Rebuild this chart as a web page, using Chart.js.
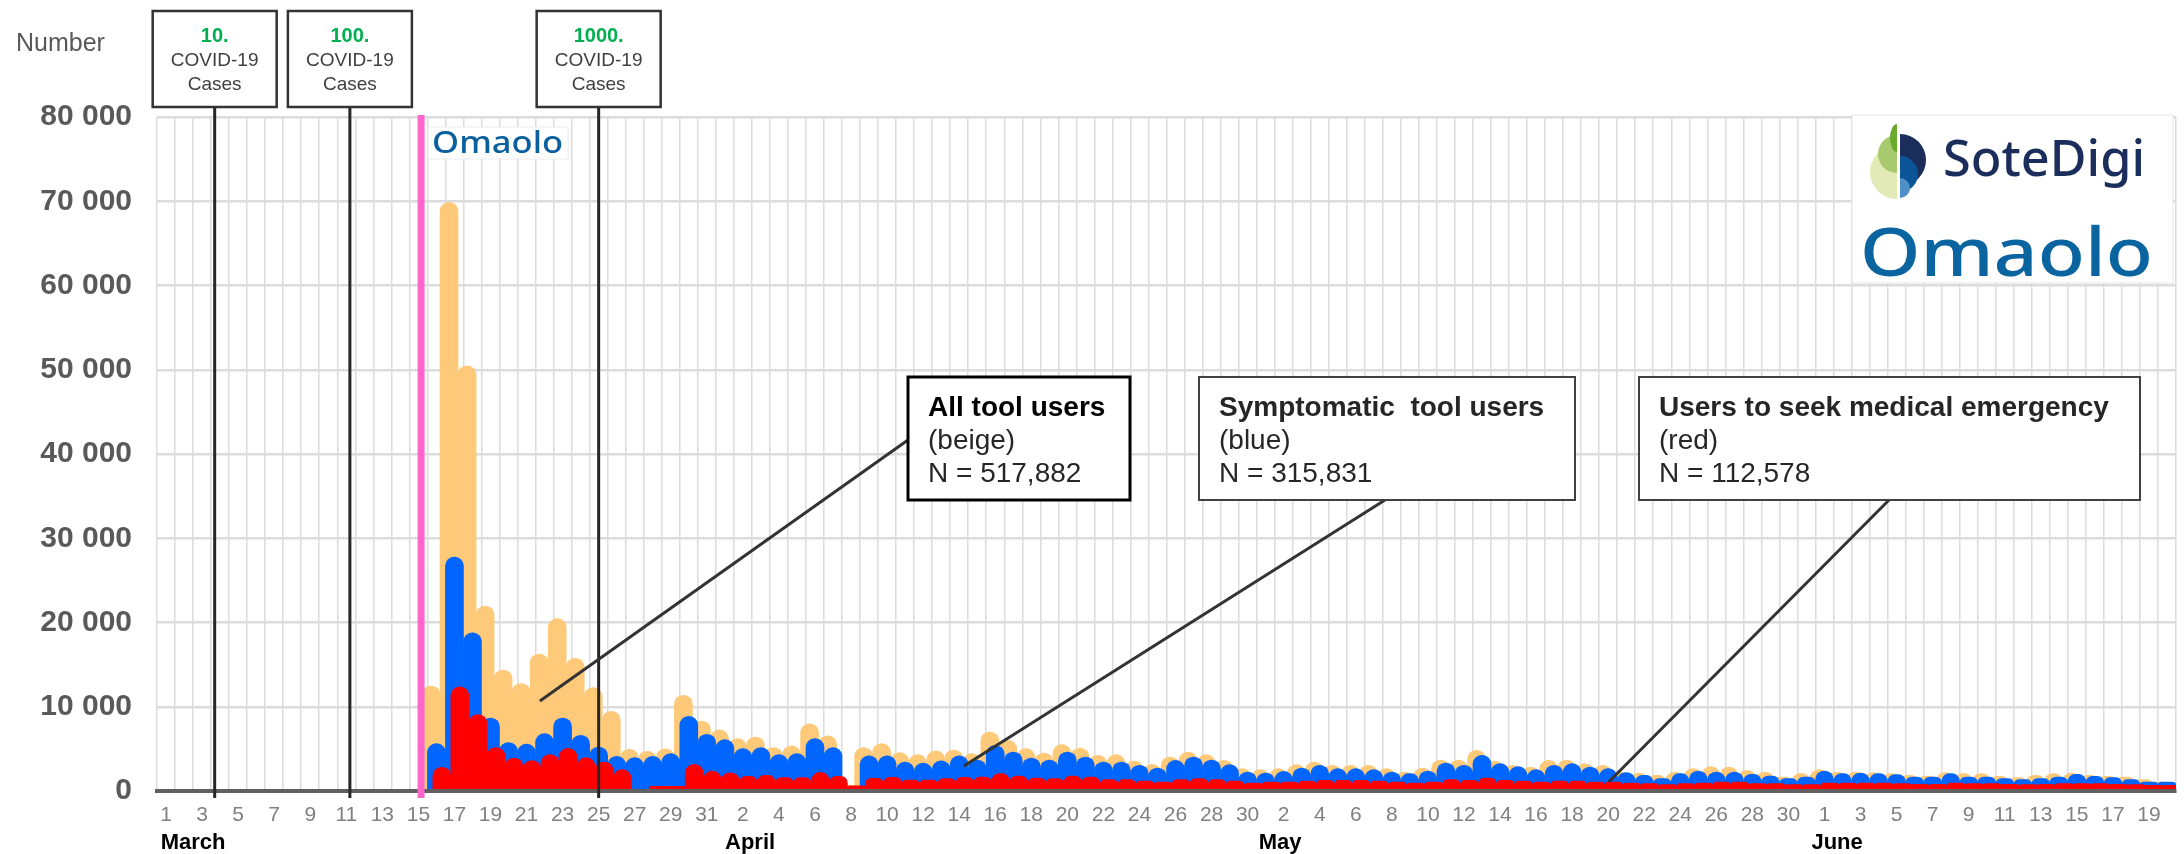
<!DOCTYPE html>
<html>
<head>
<meta charset="utf-8">
<script src="https://cdn.jsdelivr.net/npm/chart.js"></script>
<style>
  html, body { margin: 0; padding: 0; background: #ffffff; }
  #wrap { width: 2184px; height: 854px; position: relative; }
</style>
</head>
<body>
<div id="wrap"><canvas id="omaoloChart" width="2184" height="854"></canvas></div>
<script>
// Daily Omaolo symptom-tool users, 1 March - 20 June
const months = ['March', 'April', 'May', 'June'];
const monthLengths = [31, 30, 31, 20];
const monthLabelAt = [1.5, 32.4, 61.8, 92.7];   // day index under which month name sits

const days = [];
monthLengths.forEach(n => { for (let d = 1; d <= n; d++) days.push(String(d)); });

const allUsers = [
    0, 0, 0, 0, 0, 0, 0, 0, 0, 0, 0, 0, 0, 0, 0,
    12500, 69900, 50500, 22000, 14400, 12800, 16300, 20500, 15800, 12300, 9500, 5000, 4750, 5050, 11400, 8350,
    7300, 6250, 6450, 5200, 5400, 8000, 6600, 700, 5200, 5660, 4600, 4350, 4800, 4900, 4470,
    7040, 6050, 5060, 4550, 5540, 5140, 4270, 4350, 3600, 3200, 4070, 4670, 4350, 3680, 2690,
    2570, 2690, 3170, 3480, 3090, 3090, 3090, 2690, 2290, 2770, 3720, 3720, 4870, 3600, 3090,
    2890, 3680, 3720, 3290, 3090, 2290, 2180, 1900, 2290, 2690, 2930, 2890, 2490, 2290, 1700, 2100,
    2570, 2290, 2290, 2220, 2100, 1900, 1820, 2220, 2100, 2100, 1780, 1620, 1900, 2100, 2180,
    1900, 1780, 1700, 1380, 1110
];
const symptomatic = [
    0, 0, 0, 0, 0, 0, 0, 0, 0, 0, 0, 0, 0, 0, 0,
    5660, 27800, 18800, 8700, 5800, 5600, 6850, 8700, 6650, 5260, 4150, 4000, 4150, 4470, 8900, 6770,
    6130, 5060, 5180, 4350, 4470, 6250, 5180, 550, 4200, 4200, 3470, 3350, 3620, 4200, 3720,
    5460, 4670, 3960, 3720, 4670, 4070, 3480, 3480, 3090, 2770, 3680, 4070, 3720, 3170, 2290,
    2180, 2370, 2770, 3090, 2690, 2690, 2570, 2290, 2100, 2410, 3360, 3090, 4270, 3290, 2930,
    2570, 3090, 3290, 2890, 2690, 2220, 1900, 1500, 2100, 2410, 2290, 2290, 2020, 1820, 1500, 1700,
    2410, 2100, 2180, 2100, 1980, 1700, 1700, 2100, 1700, 1700, 1500, 1380, 1500, 1700, 2020,
    1780, 1620, 1380, 1110, 1110
];
const emergency = [
    0, 0, 0, 0, 0, 0, 0, 0, 0, 0, 0, 0, 0, 0, 0,
    2850, 12400, 9100, 5200, 3950, 3650, 4350, 5100, 4000, 3480, 2570, 0, 600, 600, 3200, 2400,
    2200, 1780, 1900, 1620, 1620, 2250, 1780, 650, 1550, 1650, 1340, 1340, 1500, 1650, 1700,
    2100, 1820, 1580, 1500, 1820, 1700, 1380, 1380, 1230, 1110, 1380, 1500, 1380, 1230, 990,
    1110, 1110, 1230, 1300, 1300, 1300, 1230, 1110, 990, 1110, 1380, 1300, 1580, 1300, 1230,
    1110, 1230, 1230, 1110, 1110, 990, 910, 790, 910, 990, 1110, 1110, 910, 910, 790, 790,
    990, 990, 990, 990, 910, 830, 830, 990, 910, 910, 830, 790, 830, 910, 910,
    910, 830, 790, 710, 710
];

// COVID-19 case milestones (day index) and Omaolo launch
const caseMilestones = ['10.', '100.', '1000.'];
const caseMilestoneAt = [2.7, 10.2, 24.0];
const launchAt = 14.15;

// callout boxes: label lines and the point [day index, value] they point to
const seriesTitles = ['All tool users', 'Symptomatic  tool users', 'Users to seek medical emergency'];
const seriesColours = ['(beige)', '(blue)', '(red)'];
const seriesTotals = ['N = 517,882', 'N = 315,831', 'N = 112,578'];
const calloutTarget = [[20.74, 10680], [44.26, 2970], [80.03, 1070]];

const FONT = "'Liberation Sans', Arial, sans-serif";
const NARROW = "'Liberation Sans Narrow', 'Liberation Sans', Arial, sans-serif";
const LOGO = "'Noto Sans', 'Open Sans', sans-serif";

function thousands(v) {
    return String(v).replace(/\B(?=(\d{3})+(?!\d))/g, ' ');
}

function drawLine(ctx, x1, y1, x2, y2, colour, width) {
    ctx.beginPath();
    ctx.moveTo(x1, y1);
    ctx.lineTo(x2, y2);
    ctx.strokeStyle = colour;
    ctx.lineWidth = width;
    ctx.stroke();
}

function drawBox(ctx, x, y, w, h, colour, width) {
    ctx.fillStyle = '#ffffff';
    ctx.fillRect(x, y, w, h);
    ctx.strokeStyle = colour;
    ctx.lineWidth = width;
    ctx.strokeRect(x, y, w, h);
}

// logo lettering: fitted to a width, optionally squashed vertically
function logoText(ctx, text, x, baseline, width, squash, weight, colour) {
    ctx.font = weight + ' 100px ' + LOGO;
    const size = 100 * width / ctx.measureText(text).width;
    ctx.font = weight + ' ' + size.toFixed(1) + 'px ' + LOGO;
    ctx.save();
    ctx.translate(x, baseline);
    ctx.scale(1, squash);
    ctx.fillStyle = colour;
    ctx.textAlign = 'left';
    ctx.textBaseline = 'alphabetic';
    ctx.fillText(text, 0, 0);
    ctx.restore();
}

function drawLeaf(ctx, cx, cy) {
    ctx.save();
    // green left half
    ctx.beginPath();
    ctx.rect(cx - 40, cy - 50, 40, 100);
    ctx.clip();
    ctx.fillStyle = '#e2ebb8';
    ctx.beginPath(); ctx.arc(cx, cy + 12, 27, 0, Math.PI * 2); ctx.fill();
    ctx.fillStyle = '#a7ca6e';
    ctx.beginPath(); ctx.arc(cx, cy - 6, 19, 0, Math.PI * 2); ctx.fill();
    ctx.fillStyle = '#6aab2e';
    ctx.beginPath(); ctx.ellipse(cx, cy - 22, 7, 14, 0, 0, Math.PI * 2); ctx.fill();
    ctx.restore();
    ctx.save();
    // blue right half
    ctx.beginPath();
    ctx.rect(cx + 3, cy - 50, 40, 100);
    ctx.clip();
    ctx.fillStyle = '#1b2d5b';
    ctx.beginPath(); ctx.arc(cx + 3, cy, 26, 0, Math.PI * 2); ctx.fill();
    ctx.fillStyle = '#0b5597';
    ctx.beginPath(); ctx.arc(cx + 3, cy + 14, 18, 0, Math.PI * 2); ctx.fill();
    ctx.fillStyle = '#4d8fc6';
    ctx.beginPath(); ctx.arc(cx + 3, cy + 28, 10, 0, Math.PI * 2); ctx.fill();
    ctx.restore();
}

// Excel style overlap: later series sit further right and on top
const overlapOrder = {
    id: 'overlapOrder',
    beforeDatasetsDraw(chart) {
        const a = chart.chartArea;
        const ctx = chart.ctx;
        ctx.save();
        ctx.beginPath();
        ctx.rect(a.left, a.top - 20, a.right - a.left, a.bottom - a.top + 20);
        ctx.clip();
        chart.getSortedVisibleDatasetMetas().forEach(m => m.controller.draw());
        ctx.restore();
        return false;
    }
};

const annotations = {
    id: 'annotations',
    afterDraw(chart) {
        const ctx = chart.ctx;
        const x = chart.scales.x;
        const y = chart.scales.y;
        const a = chart.chartArea;
        ctx.save();

        // "Number" axis title
        ctx.font = '25px ' + FONT;
        ctx.fillStyle = '#595959';
        ctx.textAlign = 'left';
        ctx.textBaseline = 'middle';
        ctx.fillText('Number', 16, 44);

        // month names
        ctx.font = 'bold 22px ' + NARROW;
        ctx.fillStyle = '#000000';
        ctx.textAlign = 'center';
        months.forEach((m, i) => ctx.fillText(m, x.getPixelForValue(monthLabelAt[i]), 843));

        // case milestone lines and boxes
        caseMilestones.forEach((label, i) => {
            const px = x.getPixelForValue(caseMilestoneAt[i]);
            drawLine(ctx, px, 107, px, 798, '#262626', 3);
            drawBox(ctx, px - 62, 11, 124, 96, '#333333', 2.5);
            ctx.textAlign = 'center';
            ctx.textBaseline = 'middle';
            ctx.font = 'bold 20px ' + FONT;
            ctx.fillStyle = '#00b050';
            ctx.fillText(label, px, 36);
            ctx.font = '19px ' + NARROW;
            ctx.fillStyle = '#404040';
            ctx.fillText('COVID-19', px, 61);
            ctx.fillText('Cases', px, 85);
        });

        // Omaolo launch line
        const lx = x.getPixelForValue(launchAt);
        drawLine(ctx, lx, a.top - 2, lx, 798, '#ff66cc', 7);

        // small Omaolo tag
        ctx.fillStyle = '#ffffff';
        ctx.fillRect(lx + 7, 127, 140, 32);
        ctx.strokeStyle = '#ececec';
        ctx.lineWidth = 1;
        ctx.strokeRect(lx + 7, 127, 140, 32);
        logoText(ctx, 'Omaolo', lx + 11, 153, 131, 0.88, '500', '#0a5f9e');

        // logo panel
        ctx.fillStyle = '#ffffff';
        ctx.fillRect(1852, 115, 321, 168);
        ctx.strokeStyle = '#e6e6e6';
        ctx.lineWidth = 1;
        ctx.strokeRect(1852, 115, 321, 168);
        drawLeaf(ctx, 1897, 160);
        logoText(ctx, 'SoteDigi', 1943, 176, 202, 1, '500', '#1b2d5b');
        logoText(ctx, 'Omaolo', 1860, 276, 293, 0.88, '500', '#0a64a0');

        // callouts
        const boxes = [
            { left: 908, width: 222, border: '#000000', lw: 3, title: '#000000' },
            { left: 1199, width: 376, border: '#404040', lw: 2, title: '#262626' },
            { left: 1639, width: 501, border: '#404040', lw: 2, title: '#262626' }
        ];
        const anchors = [[908, 440], [1385, 500], [1889, 500]];
        boxes.forEach((b, i) => {
            const tx = x.getPixelForValue(calloutTarget[i][0]);
            const ty = y.getPixelForValue(calloutTarget[i][1]);
            drawLine(ctx, tx, ty, anchors[i][0], anchors[i][1], '#333333', 3);
            drawBox(ctx, b.left, 377, b.width, 123, b.border, b.lw);
            ctx.textAlign = 'left';
            ctx.textBaseline = 'alphabetic';
            ctx.font = 'bold 28px ' + FONT;
            ctx.fillStyle = b.title;
            ctx.fillText(seriesTitles[i], b.left + 20, 416);
            ctx.font = '28px ' + FONT;
            ctx.fillStyle = '#262626';
            ctx.fillText(seriesColours[i], b.left + 20, 449);
            ctx.fillText(seriesTotals[i], b.left + 20, 482);
        });

        ctx.restore();
    }
};

new Chart(document.getElementById('omaoloChart'), {
    type: 'bar',
    data: {
        labels: days,
        datasets: [{
            label: 'All tool users',
            data: allUsers,
            backgroundColor: '#fec979'
        }, {
            label: 'Symptomatic tool users',
            data: symptomatic,
            backgroundColor: '#0066ff'
        }, {
            label: 'Users to seek medical emergency',
            data: emergency,
            backgroundColor: '#ff0000'
        }]
    },
    options: {
        responsive: false,
        animation: false,
        datasets: {
            bar: {
                categoryPercentage: 0.9,
                barPercentage: 3.45,
                borderRadius: { topLeft: 9, topRight: 9 },
                borderSkipped: 'bottom'
            }
        },
        layout: { padding: { top: 117, right: 8, left: 0, bottom: 0 } },
        plugins: {
            legend: { display: false },
            tooltip: { enabled: false }
        },
        scales: {
            x: {
                grid: { offset: true, color: '#dcdcdc', lineWidth: 1.5, drawTicks: false },
                border: { color: '#606060', width: 4, z: 1 },
                ticks: {
                    autoSkip: false,
                    maxRotation: 0,
                    padding: 12,
                    color: '#808080',
                    font: { family: NARROW, size: 21 },
                    callback: function(value, index) {
                        return index % 2 === 0 ? days[index] : '';
                    }
                },
                afterFit: function(scale) { scale.height = 63; }
            },
            y: {
                min: 0,
                max: 80000,
                grid: { color: '#dcdcdc', lineWidth: 2.5, drawTicks: false },
                border: { display: false },
                ticks: {
                    stepSize: 10000,
                    padding: 25,
                    color: '#595959',
                    font: { family: FONT, size: 30, weight: 'bold' },
                    callback: function(value) { return thousands(value); }
                },
                afterFit: function(scale) { scale.width = 157; }
            }
        }
    },
    plugins: [overlapOrder, annotations]
});
</script>
</body>
</html>
